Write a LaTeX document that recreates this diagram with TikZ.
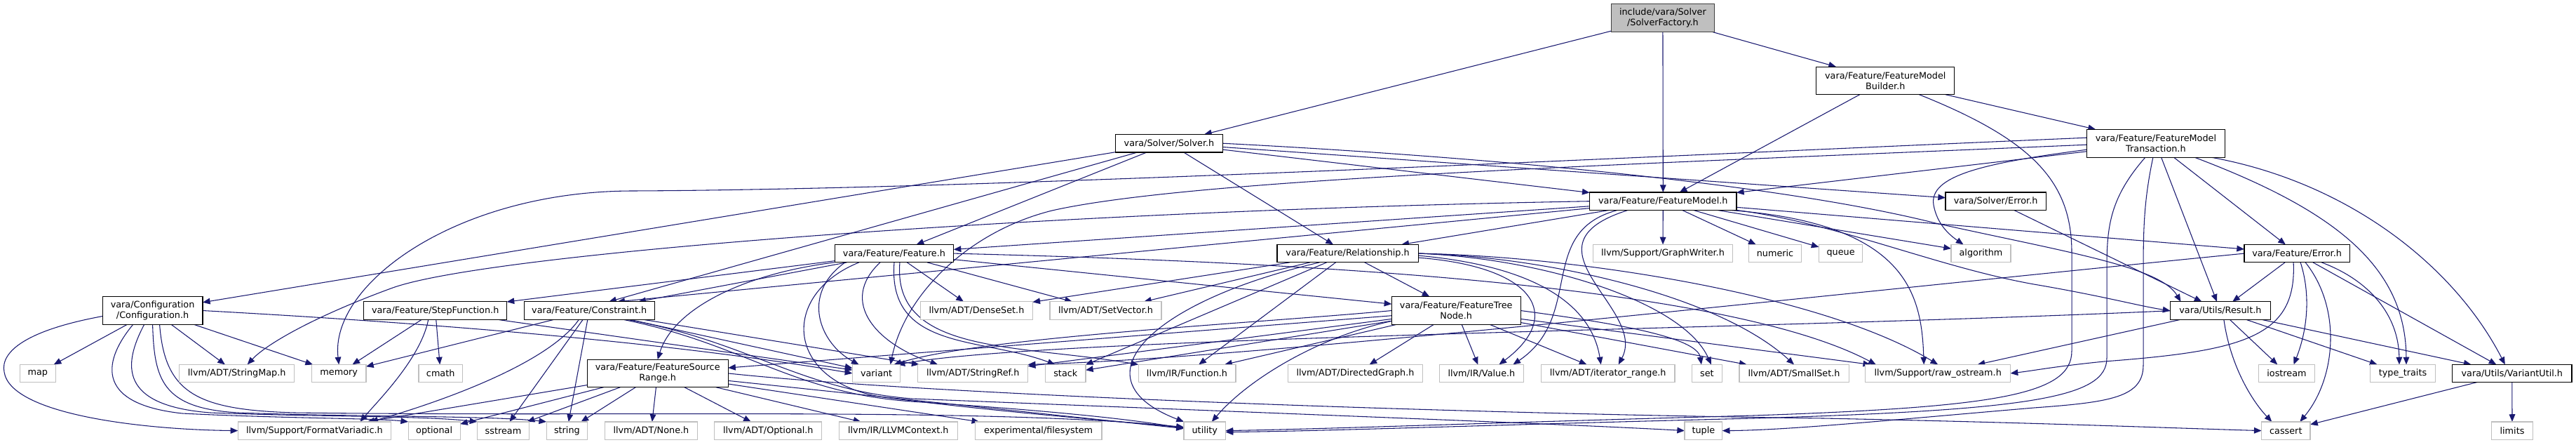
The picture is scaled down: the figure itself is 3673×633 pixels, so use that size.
\documentclass[tikz,border=0pt]{standalone}
\usepackage{fontspec}
\newfontfamily\dvs{DejaVu Sans}
\usetikzlibrary{arrows.meta,calc}
\definecolor{edgeblue}{HTML}{191970}
\definecolor{extgray}{HTML}{BFBFBF}
\definecolor{rootfill}{HTML}{BFBFBF}
\definecolor{rootline}{HTML}{404040}
\pgfdeclarelayer{bg}
\pgfsetlayers{bg,main}
\tikzset{
  nd/.style={inner sep=0pt, outer sep=0pt, align=center, line width=0.9pt, fill=white, font=\dvs\fontsize{9.6}{11}\selectfont},
  docbox/.style={nd, draw=black},
  extbox/.style={nd, draw=extgray},
  rootbox/.style={nd, draw=rootline, fill=rootfill},
  sz/.style 2 args={minimum width=#1*0.75pt, minimum height=#2*0.75pt},
  dep/.style={draw=edgeblue, line width=0.8pt, -{Triangle[length=8pt,width=6.5pt]}},
}
\begin{document}
\begin{tikzpicture}[x=0.75pt,y=-0.75pt]
\useasboundingbox (0,0) rectangle (3673,633);
% ---------- nodes ----------
\node[rootbox, sz={146.9}{40}] (SF) at (2370.9,25.6) {include/vara/Solver\\/SolverFactory.h};
\node[docbox, sz={196.9}{39.6}] (FMB) at (2688.3,114.9) {vara/Feature/FeatureModel\\Builder.h};
\node[docbox, sz={152.6}{25.4}] (Solver) at (1667,204.2) {vara/Solver/Solver.h};
\node[docbox, sz={197.2}{39.8}] (FMT) at (3073.9,204.2) {vara/Feature/FeatureModel\\Transaction.h};
\node[docbox, sz={209.3}{25.4}] (FM) at (2371.3,286.7) {vara/Feature/FeatureModel.h};
\node[docbox, sz={143.2}{25.4}] (SErr) at (2845.6,286.7) {vara/Solver/Error.h};
\node[docbox, sz={169.4}{25.4}] (Feat) at (1275,361.1) {vara/Feature/Feature.h};
\node[docbox, sz={201.2}{25.4}] (Rel) at (1921.6,361.1) {vara/Feature/Relationship.h};
\node[extbox, sz={198.7}{25.4}] (GW) at (2371,361.1) {llvm/Support/GraphWriter.h};
\node[extbox, sz={74.7}{25.4}] (numeric) at (2531,361.1) {numeric};
\node[extbox, sz={62.4}{25.4}] (queue) at (2624.6,361.1) {queue};
\node[extbox, sz={85}{25.4}] (algorithm) at (2824.5,361.1) {algorithm};
\node[docbox, sz={150.2}{25.4}] (FErr) at (3275.1,361.1) {vara/Feature/Error.h};
\node[docbox, sz={142.7}{39.9}] (Conf) at (217.6,442.5) {vara/Configuration\\/Configuration.h};
\node[docbox, sz={203.8}{25.8}] (Step) at (620.7,442.7) {vara/Feature/StepFunction.h};
\node[docbox, sz={186.2}{25.8}] (Cons) at (840.2,442.7) {vara/Feature/Constraint.h};
\node[extbox, sz={159.7}{25.8}] (DenseSet) at (1392.5,442.7) {llvm/ADT/DenseSet.h};
\node[extbox, sz={158.9}{25.8}] (SetVector) at (1576.5,442.7) {llvm/ADT/SetVector.h};
\node[docbox, sz={183.8}{39.9}] (FTN) at (2076.2,442.5) {vara/Feature/FeatureTree\\Node.h};
\node[docbox, sz={142.9}{25.8}] (Res) at (3165.9,442.7) {vara/Utils/Result.h};
% row G
\node[extbox, sz={50.6}{25}] (map) at (53.8,531.9) {map};
\node[extbox, sz={163.7}{25}] (StringMap) at (337.7,531.9) {llvm/ADT/StringMap.h};
\node[extbox, sz={77.6}{25}] (memory) at (483.2,531.9) {memory};
\node[extbox, sz={62.3}{25}] (cmath) at (628.2,531.9) {cmath};
\node[extbox, sz={68.4}{25}] (variant) at (1249.6,531.9) {variant};
\node[extbox, sz={157}{25}] (StringRef) at (1387.2,531.9) {llvm/ADT/StringRef.h};
\node[extbox, sz={57.4}{25}] (stack) at (1519.3,531.9) {stack};
\node[extbox, sz={138.8}{25}] (Function) at (1692.5,531.9) {llvm/IR/Function.h};
\node[extbox, sz={192.1}{25}] (DirGraph) at (1932.5,531.9) {llvm/ADT/DirectedGraph.h};
\node[extbox, sz={120.2}{25}] (Value) at (2112.4,531.9) {llvm/IR/Value.h};
\node[extbox, sz={190.6}{25}] (itrange) at (2292.7,531.9) {llvm/ADT/iterator\_range.h};
\node[extbox, sz={43.1}{25}] (set) at (2433.9,531.9) {set};
\node[extbox, sz={156.2}{25}] (SmallSet) at (2558,531.9) {llvm/ADT/SmallSet.h};
\node[extbox, sz={206.8}{25}] (raw) at (2763.2,531.9) {llvm/Support/raw\_ostream.h};
\node[extbox, sz={79.8}{25}] (iostream) at (3260.5,531.9) {iostream};
\node[extbox, sz={92.3}{25}] (typetraits) at (3426,531.9) {type\_traits};
\node[docbox, sz={170.4}{25}] (VU) at (3581.8,531.9) {vara/Utils/VariantUtil.h};
\node[docbox, sz={200.9}{39.5}] (FSR) at (937.7,531.9) {vara/Feature/FeatureSource\\Range.h};
% row H
\node[extbox, sz={218.2}{25.4}] (FV) at (448.4,613.6) {llvm/Support/FormatVariadic.h};
\node[extbox, sz={74}{25.4}] (optional) at (619.1,613.6) {optional};
\node[extbox, sz={74.3}{25.4}] (sstream) at (717.5,613.6) {sstream};
\node[extbox, sz={58.5}{25.4}] (string) at (808.4,613.6) {string};
\node[extbox, sz={131.6}{25.4}] (None) at (928.4,613.6) {llvm/ADT/None.h};
\node[extbox, sz={153.1}{25.4}] (Optional) at (1095.3,613.6) {llvm/ADT/Optional.h};
\node[extbox, sz={169}{25.4}] (LLVMCtx) at (1280.8,613.6) {llvm/IR/LLVMContext.h};
\node[extbox, sz={180.7}{25.4}] (filesystem) at (1480.6,613.6) {experimental/filesystem};
\node[extbox, sz={59.6}{25.4}] (utility) at (1717.8,613.6) {utility};
\node[extbox, sz={53.8}{25.4}] (tuple) at (2428.9,613.6) {tuple};
\node[extbox, sz={69.5}{25.4}] (cassert) at (3259.3,613.6) {cassert};
\node[extbox, sz={58.4}{25.4}] (limits) at (3582,613.6) {limits};
% ---------- edges ----------
\begin{pgfonlayer}{bg}
% SolverFactory
\draw[dep] (SF) -- (Solver);
\draw[dep] (SF) -- (FM);
\draw[dep] (SF) -- (FMB);
% FeatureModelBuilder
\draw[dep] (FMB) -- (FM);
\draw[dep] (FMB) -- (FMT);
\draw[dep] ($(FMB.south)+(48,0)$) .. controls (2900,200) and (2954,260) .. (2954,360) -- (2954,500) .. controls (2954,562) and (2850,580) .. (2500,592) .. controls (2100,603) and (1900,611) .. (utility.east);
% FeatureModelTransaction
\draw[dep] (FMT) -- (FM);
\draw[dep] ($(FMT.west)+(0,9)$) .. controls (2830,232) and (2750,250) .. (2757,292) .. controls (2762,320) and (2780,335) .. ($(algorithm.north)+(-25,0)$);
\draw[dep] (FMT) -- (FErr);
\draw[dep] (FMT) -- (Res);
\draw[dep] ($(FMT.south)+(55,0)$) .. controls (3330,300) and (3430,380) .. ($(typetraits.north)+(5,0)$);
\draw[dep] ($(FMT.south east)+(-20,0)$) .. controls (3350,260) and (3500,380) .. ($(VU.north)+(-10,0)$);
\draw[dep] ($(FMT.south)+(-15,0)$) .. controls (3010,280) and (3004,320) .. (3004,380) -- (3004,510) .. controls (3004,566) and (2900,584) .. (2500,596) .. controls (2100,606) and (1900,614) .. ($(utility.east)+(0,2)$);
\draw[dep] ($(FMT.south)+(-4,0)$) .. controls (3056,290) and (3056,330) .. (3056,400) -- (3056,520) .. controls (3056,566) and (3010,573) .. (2900,581) .. controls (2700,598) and (2550,613) .. (tuple.east);
\draw[dep] ($(FMT.west)+(0,-8)$) .. controls (2300,225) and (1400,270) .. (900,272) .. controls (650,273) and (470,405) .. (memory.north);
\draw[dep] ($(FMT.west)+(0,2)$) .. controls (2300,235) and (1700,255) .. (1500,300) .. controls (1380,330) and (1290,420) .. ($(variant.north)+(20,0)$);
% Solver
\draw[dep] (Solver) -- (Conf);
\draw[dep] (Solver) -- ($(Cons.north)+(28,0)$);
\draw[dep] (Solver) -- (Feat);
\draw[dep] (Solver) -- (Rel);
\draw[dep] (Solver) -- (FM);
\draw[dep] (Solver) -- (SErr);
\draw[dep] (Solver.east) .. controls (2150,225) and (2550,265) .. (2760,318) .. controls (2950,360) and (3080,380) .. ($(Res.north west)+(15,0)$);
% Solver/Error
\draw[dep] (SErr) -- (Res);
% FeatureModel
\draw[dep] (FM) -- (Feat);
\draw[dep] (FM) -- (Rel);
\draw[dep] (FM) -- ($(Cons.north)+(40,0)$);
\draw[dep] (FM.west) .. controls (1500,300) and (700,360) .. (560,410) .. controls (450,450) and (380,490) .. ($(StringMap.north)+(15,0)$);
\draw[dep] (FM) -- (GW);
\draw[dep] (FM) -- (numeric);
\draw[dep] (FM) -- (queue);
\draw[dep] (FM) -- (algorithm);
\draw[dep] (FM) -- (FErr);
\draw[dep] (FM.south east) .. controls (2620,318) and (2760,380) .. (2900,405) .. controls (3000,422) and (3050,436) .. (Res.west);
\draw[dep] ($(FM.south)+(-50,0)$) .. controls (2160,350) and (2350,440) .. ($(itrange.north)+(15,0)$);
\draw[dep] ($(FM.south)+(-65,0)$) .. controls (2190,330) and (2260,450) .. ($(Value.north)+(45,0)$);
\draw[dep] ($(FM.south east)+(-10,0)$) .. controls (2720,318) and (2740,420) .. ($(raw.north)+(-20,0)$);
% Feature
\draw[dep] (Feat) -- (Step);
\draw[dep] (Feat) -- ($(Cons.north)+(70,0)$);
\draw[dep] (Feat.south west) .. controls (1060,390) and (960,440) .. (FSR.north);
\draw[dep] (Feat) -- (FTN);
\draw[dep] (Feat) -- (DenseSet);
\draw[dep] (Feat) -- (SetVector);
\draw[dep] ($(Feat.south)+(-70,0)$) .. controls (1140,420) and (1170,490) .. ($(variant.north)+(-25,0)$);
\draw[dep] ($(Feat.south)+(-20,0)$) .. controls (1195,430) and (1250,490) .. ($(StringRef.north)+(-50,0)$);
\draw[dep] (Feat.south) .. controls (1265,500) and (1400,480) .. ($(stack.north)+(-15,0)$);
\draw[dep] ($(Feat.south)+(8,0)$) .. controls (1272,505) and (1450,490) .. (Function.north west);
\draw[dep] ($(Feat.south)+(-50,0)$) .. controls (1110,420) and (1120,545) .. (1260,566) .. controls (1450,590) and (1600,600) .. ($(utility.west)+(0,-4)$);
\draw[dep] (Feat.east) .. controls (1800,372) and (2450,400) .. ($(raw.north west)+(15,0)$);
% Relationship
\draw[dep] (Rel) -- (FTN);
\draw[dep] (Rel) -- (DenseSet);
\draw[dep] (Rel) -- (SetVector);
\draw[dep] (Rel) -- (stack);
\draw[dep] (Rel) -- (Function);
\draw[dep] ($(Rel.south)+(-40,0)$) .. controls (1640,430) and (1530,540) .. (utility.north west);
\draw[dep] ($(Rel.east)+(0,6)$) .. controls (2190,380) and (2230,450) .. ($(Value.north)+(25,0)$);
\draw[dep] ($(Rel.east)+(0,3)$) .. controls (2200,380) and (2270,440) .. ($(itrange.north)+(-10,0)$);
\draw[dep] (Rel.east) .. controls (2200,368) and (2400,430) .. ($(set.north)+(6,0)$);
\draw[dep] (Rel.east) .. controls (2200,365) and (2450,420) .. (SmallSet.north);
\draw[dep] (Rel.east) .. controls (2250,365) and (2600,420) .. (raw.north);
% FeatureTreeNode
\draw[dep] (FTN) -- (FSR);
\draw[dep] (FTN) -- (DirGraph);
\draw[dep] (FTN) -- (Value);
\draw[dep] (FTN) -- (itrange);
\draw[dep] (FTN) -- (Function);
\draw[dep] (FTN) -- (stack);
\draw[dep] (FTN.west) .. controls (1800,460) and (1400,480) .. ($(variant.north)+(25,0)$);
\draw[dep] (FTN) -- (StringRef);
\draw[dep] (FTN.east) .. controls (2300,460) and (2420,480) .. ($(set.north)+(-8,0)$);
\draw[dep] (FTN) -- (SmallSet);
\draw[dep] (FTN) -- (raw);
\draw[dep] ($(FTN.south west)+(0,-5)$) .. controls (1880,480) and (1780,540) .. ($(utility.north)+(10,0)$);
% Feature/Error
\draw[dep] (FErr) -- (Res);
\draw[dep] ($(FErr.south)+(5,0)$) .. controls (3295,420) and (3290,470) .. ($(iostream.north)+(10,0)$);
\draw[dep] ($(FErr.south)+(35,0)$) .. controls (3380,400) and (3420,450) .. ($(typetraits.north)+(-5,0)$);
\draw[dep] (FErr) -- (VU);
\draw[dep] ($(FErr.south)+(12,0)$) .. controls (3340,440) and (3330,540) .. ($(cassert.north)+(20,0)$);
\draw[dep] ($(FErr.south)+(-5,0)$) .. controls (3275,480) and (3200,500) .. (3000,515) .. controls (2930,522) and (2900,528) .. (raw.east);
\draw[dep] (FErr.west) .. controls (2600,420) and (1800,510) .. (StringRef.north east);
% Result
\draw[dep] (Res.west) .. controls (2500,470) and (1500,480) .. ($(variant.north)+(30,0)$);
\draw[dep] (Res) -- (iostream);
\draw[dep] (Res) -- (typetraits);
\draw[dep] (Res) -- (VU);
\draw[dep] ($(Res.south)+(5,0)$) .. controls (3180,520) and (3210,570) .. ($(cassert.north)+(-20,0)$);
\draw[dep] (Res) -- (raw);
% VariantUtil
\draw[dep] (VU) -- (cassert);
\draw[dep] (VU) -- (limits);
% Configuration
\draw[dep] (Conf) -- (map);
\draw[dep] (Conf) -- (StringMap);
\draw[dep] (Conf) -- (memory);
\draw[dep] ($(Conf.west)+(0,8)$) .. controls (40,470) and (0,500) .. (6,530) .. controls (15,590) and (200,612) .. (FV.west);
\draw[dep] ($(Conf.south)+(-28,0)$) .. controls (150,510) and (130,575) .. (260,589) .. controls (400,596) and (540,596) .. (optional.north west);
\draw[dep] ($(Conf.south)+(-12,0)$) .. controls (175,520) and (170,578) .. (300,588) .. controls (450,594) and (600,592) .. (sstream.north west);
\draw[dep] (Conf.south) .. controls (220,540) and (230,582) .. (340,588) .. controls (500,594) and (700,592) .. (string.north west);
\draw[dep] ($(Conf.south)+(10,0)$) .. controls (235,560) and (280,584) .. (420,588) .. controls (900,594) and (1400,580) .. ($(utility.west)+(0,-5)$);
\draw[dep] (Conf.east) .. controls (700,465) and (1000,495) .. (variant.west);
% StepFunction
\draw[dep] (Step) -- (memory);
\draw[dep] ($(Step.south)+(-10,0)$) .. controls (600,510) and (540,570) .. ($(FV.north)+(65,0)$);
\draw[dep] (Step) -- (cmath);
\draw[dep] (Step) -- (variant);
% Constraint
\draw[dep] (Cons) -- (memory);
\draw[dep] ($(Cons.south)+(-15,0)$) .. controls (780,520) and (620,575) .. ($(FV.north)+(80,0)$);
\draw[dep] (Cons) -- (sstream);
\draw[dep] (Cons) -- (string);
\draw[dep] (Cons) -- (variant);
\draw[dep] (Cons) -- (StringRef);
\draw[dep] ($(Cons.south)+(50,0)$) .. controls (1060,490) and (1130,560) .. (1300,572) .. controls (1500,585) and (1620,598) .. ($(utility.west)+(0,-3)$);
\draw[dep] ($(Cons.south)+(56,0)$) .. controls (1070,488) and (1140,555) .. (1300,568) .. controls (1900,592) and (2250,605) .. (tuple.west);
% FeatureSourceRange
\draw[dep] (FSR) -- ($(FV.north)+(75,0)$);
\draw[dep] (FSR) -- (optional);
\draw[dep] (FSR) -- (sstream);
\draw[dep] (FSR) -- (string);
\draw[dep] (FSR) -- (None);
\draw[dep] (FSR) -- (Optional);
\draw[dep] (FSR) -- (LLVMCtx);
\draw[dep] (FSR) -- (filesystem);
\draw[dep] (FSR) -- (utility);
\draw[dep] (FSR.east) .. controls (1300,560) and (2000,588) .. (2600,596) .. controls (2900,602) and (3100,610) .. (cassert.west);
\end{pgfonlayer}
\end{tikzpicture}
\end{document}
